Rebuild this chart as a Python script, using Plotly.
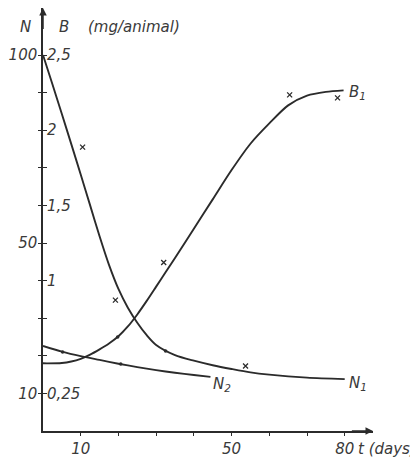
import plotly.graph_objects as go

# ---- data (t in days; N in individuals; B in mg/animal) ----
n1_t = [0, 2.5, 5, 7.5, 10, 12.5, 15, 17.5, 20, 22.5, 25, 27.5, 30, 35, 40, 45, 50, 55, 60, 70, 80]
n1_v = [100, 92.2, 84.3, 76.3, 68.2, 60, 51.8, 44.2, 37.8, 32.8, 28.8, 25.5, 22.9, 20.2, 18.7, 17.5, 16.5, 15.6, 15.0, 14.2, 13.8]

n2_t = [0, 5, 10, 15, 20, 25, 30, 35, 40, 44.4]
n2_v = [22.6, 21.1, 19.9, 18.9, 17.9, 17.0, 16.2, 15.5, 14.9, 14.4]

b1_t = [0, 5, 7.5, 10, 12.5, 15, 17.5, 20, 22.5, 25, 27.5, 30, 32.5, 35, 40, 45, 50, 55, 60, 65, 70, 75, 79.7]
b1_v = [0.45, 0.452, 0.462, 0.48, 0.508, 0.543, 0.582, 0.63, 0.695, 0.775, 0.865, 0.96, 1.055, 1.15,
        1.345, 1.54, 1.735, 1.91, 2.045, 2.165, 2.23, 2.255, 2.265]

# observed data points (crosses)
n1_obs_t = [10.5, 19.2, 53.7]
n1_obs_v = [75.5, 34.8, 17.3]
b1_obs_t = [32, 65.4, 78.1]
b1_obs_v = [1.12, 2.235, 2.215]

# small dots on the curves
n1_dot_t = [32.5]
n1_dot_v = [21.3]
n2_dot_t = [5.2, 20.6]
n2_dot_v = [21, 17.8]
b1_dot_t = [19.8]
b1_dot_v = [0.625]

x_ticks = [10, 50, 80]
x_labels = ["10", "50", "80"]
x_minor = [20, 30, 40, 60, 70]
n_ticks = [10, 50, 100]
n_labels = ["10", "50", "100"]
n_minor = [20, 30, 40, 60, 70, 80, 90]
b_ticks = [0.25, 1.0, 1.5, 2.0, 2.5]
b_labels = ["0,25", "1", "1,5", "2", "2,5"]
b_minor = [0.5, 0.75, 1.25, 1.75, 2.25]

X_MAX = 87.5
N_MAX = 112.5
B_MAX = N_MAX / 40

INK = "#2b2b2b"
TXT = "#3a3a3a"
FONT = dict(family="DejaVu Sans", size=15, color=TXT, style="italic")

fig = go.Figure()

line = dict(color=INK, width=1.9, shape="spline", smoothing=0.8)
fig.add_trace(go.Scatter(x=n1_t, y=n1_v, mode="lines", line=line, hoverinfo="skip"))
fig.add_trace(go.Scatter(x=n2_t, y=n2_v, mode="lines", line=line, hoverinfo="skip"))
fig.add_trace(go.Scatter(x=b1_t, y=b1_v, mode="lines", line=line, yaxis="y2", hoverinfo="skip"))

cross = dict(symbol="x-thin", size=5, line=dict(color=INK, width=1.3), color=INK)
dot = dict(symbol="circle", size=3.5, color=INK)
fig.add_trace(go.Scatter(x=n1_obs_t, y=n1_obs_v, mode="markers", marker=cross))
fig.add_trace(go.Scatter(x=b1_obs_t, y=b1_obs_v, mode="markers", marker=cross, yaxis="y2"))
fig.add_trace(go.Scatter(x=n1_dot_t, y=n1_dot_v, mode="markers", marker=dot))
fig.add_trace(go.Scatter(x=n2_dot_t, y=n2_dot_v, mode="markers", marker=dot))
fig.add_trace(go.Scatter(x=b1_dot_t, y=b1_dot_v, mode="markers", marker=dot, yaxis="y2"))

# page body has an 8px default margin -> figure is 8px smaller and offset
fig.update_layout(
    width=410, height=459,
    margin=dict(l=35, r=45, t=0, b=36),
    paper_bgcolor="white", plot_bgcolor="white",
    showlegend=False,
    font=FONT,
    xaxis=dict(range=[0, X_MAX], showgrid=False, zeroline=False, automargin=False,
               showline=True, linecolor=INK, linewidth=1.5,
               tickmode="array", tickvals=x_ticks, ticktext=x_labels,
               ticks="outside", ticklen=3, tickwidth=1.2, tickcolor=INK,
               minor=dict(tickmode="array", tickvals=x_minor, ticks="outside",
                          ticklen=3, tickwidth=1.2, tickcolor=INK, showgrid=False),
               tickfont=FONT),
    yaxis=dict(range=[0, N_MAX], showgrid=False, zeroline=False, automargin=False,
               showline=True, linecolor=INK, linewidth=1.5,
               tickmode="array", tickvals=n_ticks, ticktext=n_labels,
               ticks="outside", ticklen=3, tickwidth=1.2, tickcolor=INK,
               ticklabelstandoff=-2,
               minor=dict(tickmode="array", tickvals=n_minor, ticks="outside",
                          ticklen=3, tickwidth=1.2, tickcolor=INK, showgrid=False),
               tickfont=FONT),
    yaxis2=dict(range=[0, B_MAX], overlaying="y", side="left", anchor="x", automargin=False,
                showgrid=False, zeroline=False, showline=False,
                tickmode="array", tickvals=b_ticks, ticktext=b_labels,
                ticks="inside", ticklen=4, tickwidth=1.2, tickcolor=INK,
                minor=dict(tickmode="array", tickvals=b_minor, ticks="inside",
                           ticklen=4, tickwidth=1.2, tickcolor=INK, showgrid=False),
                ticklabelposition="inside", tickfont=FONT),
)

ann = []
# axis arrows
ann.append(dict(x=X_MAX, y=0, ax=X_MAX - 6, ay=0, xref="x", yref="y", axref="x", ayref="y",
                text="", showarrow=True, arrowhead=2, arrowsize=1, arrowwidth=1.5, arrowcolor=INK))
ann.append(dict(x=0, y=N_MAX, ax=0, ay=N_MAX - 6, xref="x", yref="y", axref="x", ayref="y",
                text="", showarrow=True, arrowhead=2, arrowsize=1, arrowwidth=1.5, arrowcolor=INK))
# axis titles
ann.append(dict(x=0, y=N_MAX - 5, xref="x", yref="y", text="N", showarrow=False,
                xanchor="right", xshift=-10, font=FONT))
ann.append(dict(x=0, y=N_MAX - 5, xref="x", yref="y", text="B", showarrow=False,
                xanchor="left", xshift=14, font=FONT))
ann.append(dict(x=0, y=N_MAX - 5, xref="x", yref="y", text="(mg/animal)", showarrow=False,
                xanchor="left", xshift=43, font=FONT))
ann.append(dict(x=80, y=0, xref="x", yref="y", text="t (days)", showarrow=False,
                xanchor="left", yanchor="top", xshift=11, yshift=-7, font=FONT))
# curve labels
ann.append(dict(x=b1_t[-1], y=b1_v[-1], xref="x", yref="y2", text="B<sub>1</sub>", showarrow=False,
                xanchor="left", xshift=3, yshift=-2, font=FONT))
ann.append(dict(x=n1_t[-1], y=n1_v[-1], xref="x", yref="y", text="N<sub>1</sub>", showarrow=False,
                xanchor="left", xshift=2, yshift=-4, font=FONT))
ann.append(dict(x=n2_t[-1], y=n2_v[-1], xref="x", yref="y", text="N<sub>2</sub>", showarrow=False,
                xanchor="left", xshift=1, yshift=-8, font=FONT))
fig.update_layout(annotations=ann)

fig.write_html("out.html")
